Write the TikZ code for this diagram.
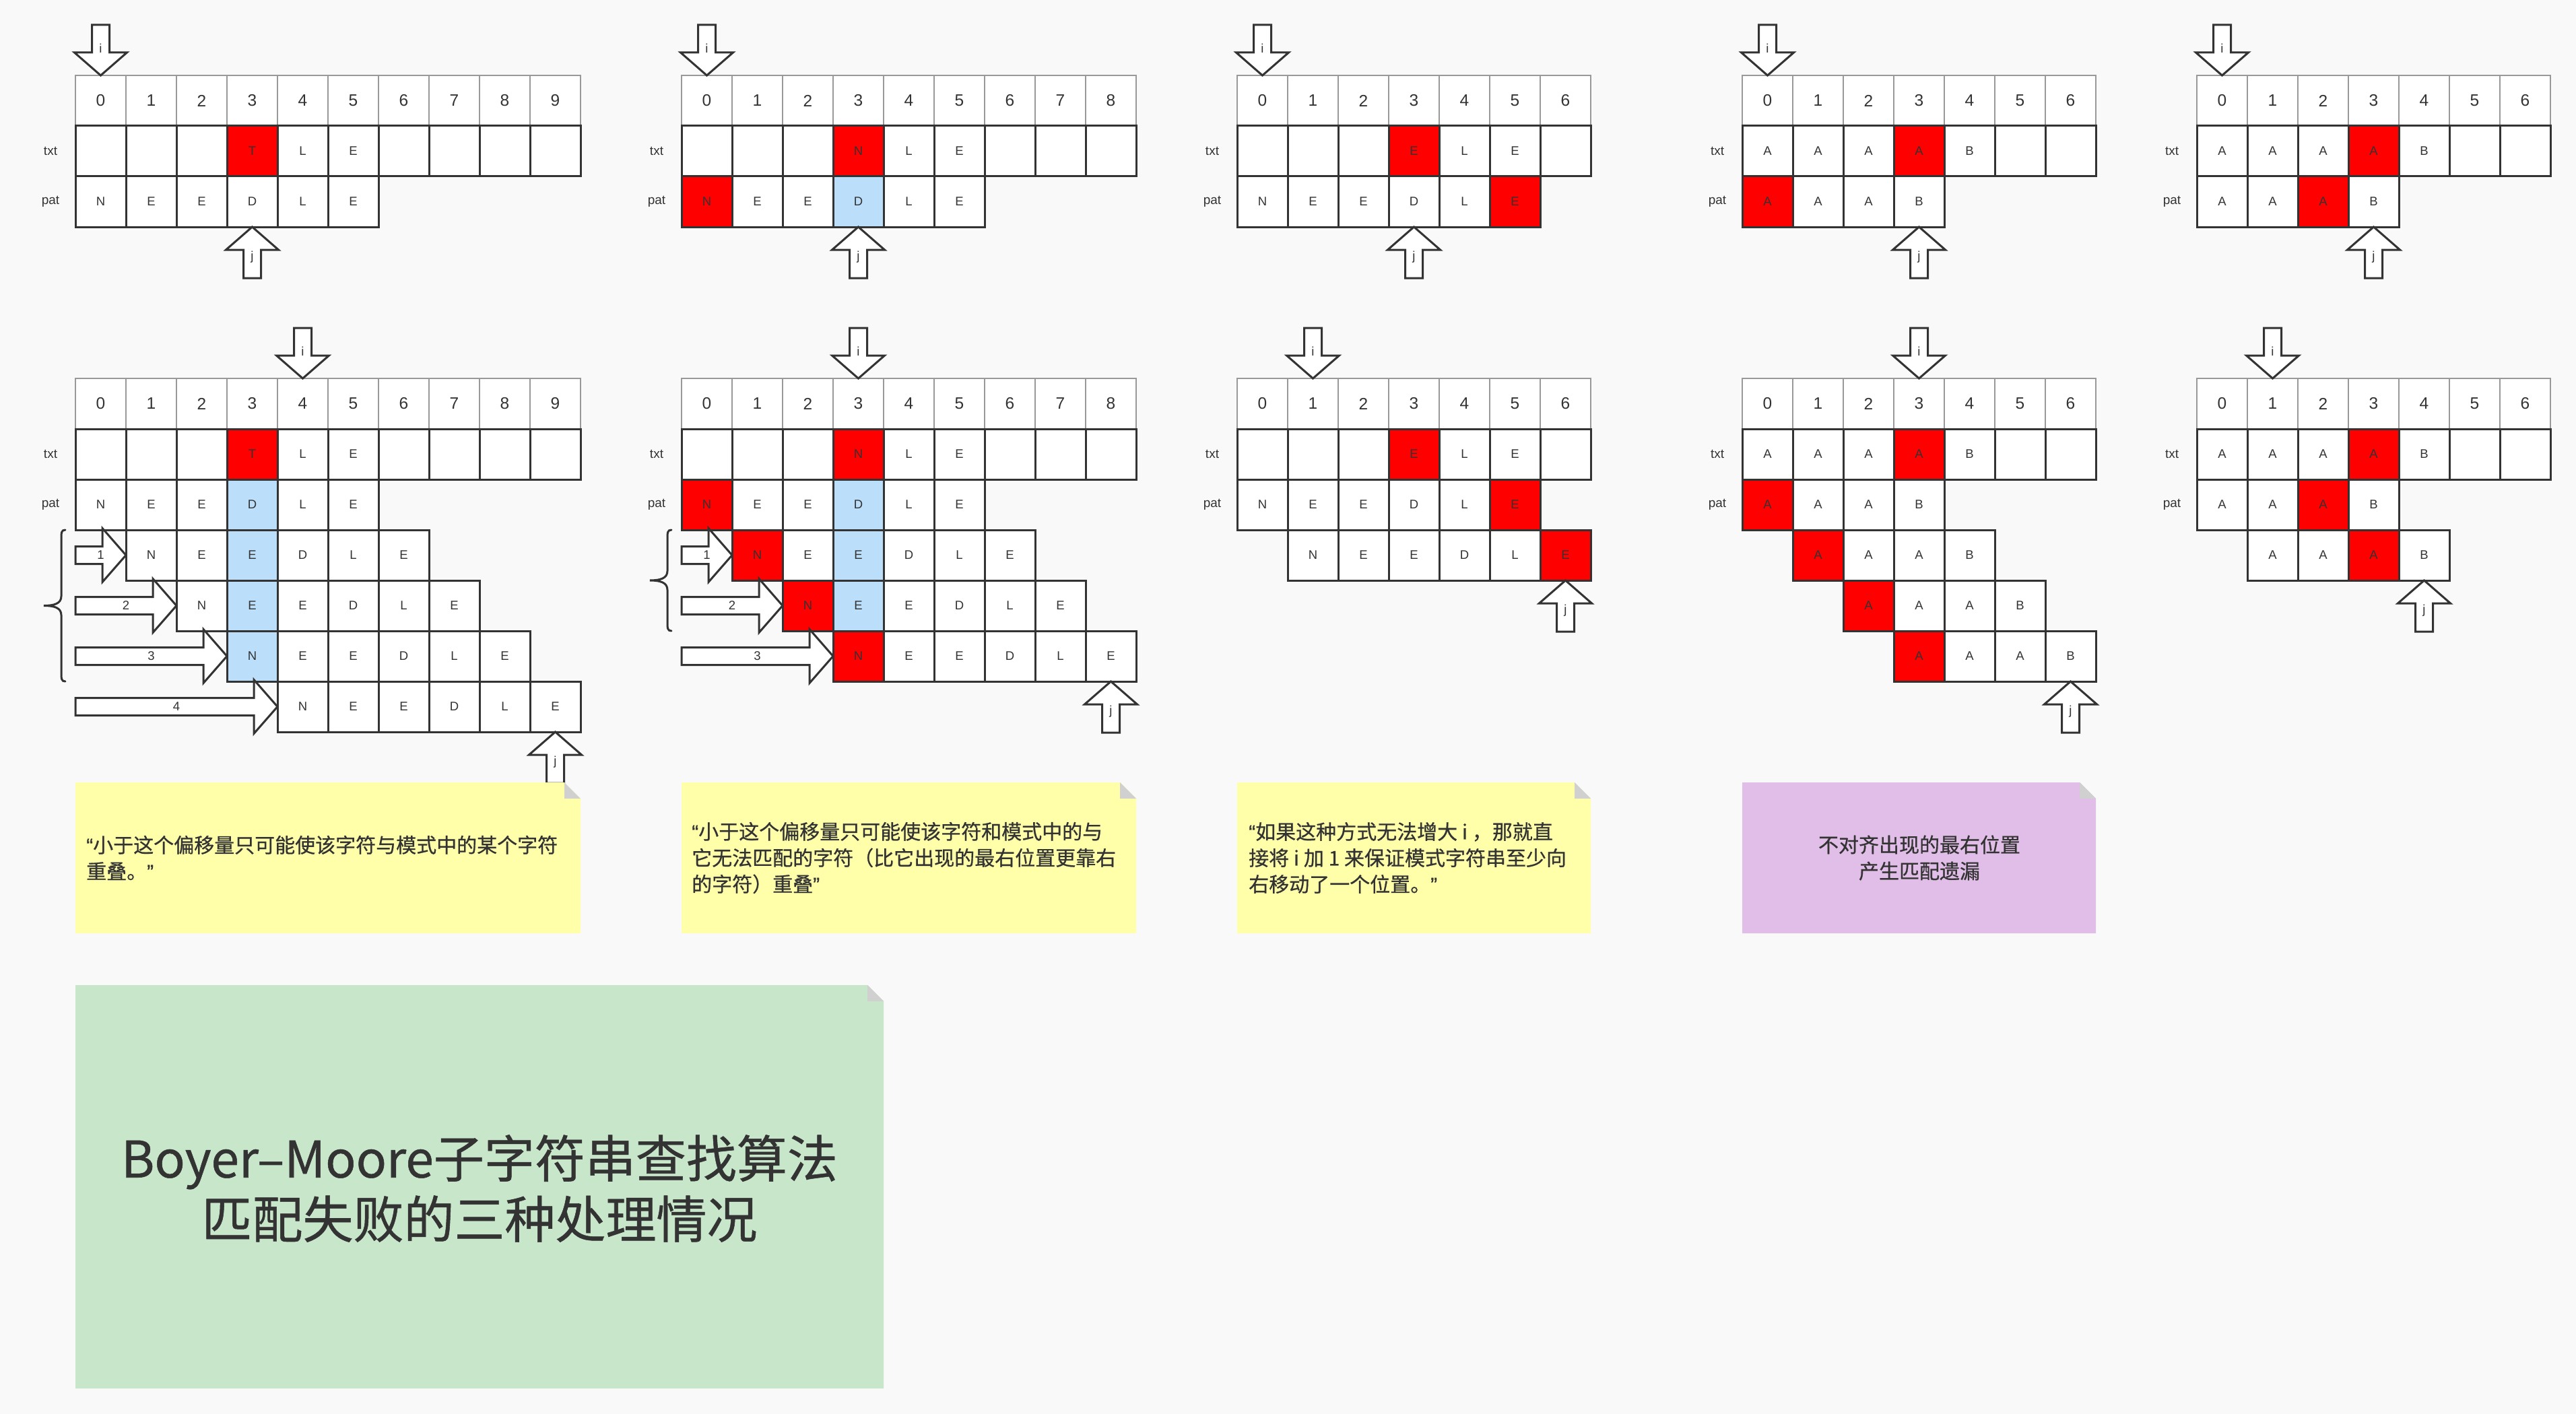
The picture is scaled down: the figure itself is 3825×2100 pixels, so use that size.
\documentclass[tikz,border=0pt]{standalone}
\usepackage{fontspec}
\setmainfont{Liberation Sans}
\newfontfamily\cjk{Noto Sans CJK SC}[FakeBold=0.7]
\newfontfamily\latinq{Liberation Sans}[FakeBold=0.7]
\definecolor{bg}{HTML}{F9F9F9}
\definecolor{ink}{HTML}{333333}
\definecolor{gridgray}{HTML}{999999}
\definecolor{cw}{HTML}{FFFFFF}
\definecolor{cr}{HTML}{FF0000}
\definecolor{cb}{HTML}{BBDEFB}
\definecolor{noteyellow}{HTML}{FFFFAA}
\definecolor{notepurple}{HTML}{E1BEE7}
\definecolor{notegreen}{HTML}{C8E6C9}
\definecolor{foldgray}{HTML}{D0D0D0}
\newcommand{\openq}{{\latinq “}}
\newcommand{\closeq}{{\latinq ”}}
\tikzset{
  cellbox/.style={draw=ink, line width=3pt, minimum width=75pt, minimum height=75pt, inner sep=0pt, text=ink, font=\fontsize{18.5}{20}\selectfont},
  idxbox/.style={draw=gridgray, line width=1.5pt, fill=white, minimum width=75pt, minimum height=75pt, inner sep=0pt, text=ink, font=\fontsize{24.5}{28}\selectfont},
  rowlabel/.style={text=ink, inner sep=0pt, font=\fontsize{19}{20}\selectfont},
  blockarrow/.style={draw=ink, line width=3pt, fill=white, line join=miter},
  arrowlabel/.style={text=ink, font=\fontsize{18.5}{20}\selectfont, inner sep=0pt},
  bracestyle/.style={draw=ink, line width=3pt, line cap=round},
  notetext/.style={text=ink, font=\cjk\fontsize{30}{39}\selectfont, inner sep=0pt},
  titletext/.style={text=ink, font=\cjk\fontsize{75}{90}\selectfont, inner sep=0pt},
}
% #1 name, #2 x0, #3 ytop, #4 last index
\newcommand{\idxrow}[4]{%
  \foreach \k in {0,...,#4} {\node[idxbox] (#1-\k) at ({#2+75*\k+37.5},{#3+37.5}) {\k};}}
% #1 name, #2 x0, #3 ytop, #4 start col, #5 list
\newcommand{\cellrow}[5]{%
  \foreach \ctext/\cfill [count=\k from #4] in {#5} {\node[cellbox, fill=\cfill] (#1-\k) at ({#2+75*\k+37.5},{#3+37.5}) {\ctext};}}
% #1 name, #2 x0, #3 ytop of txt row
\newcommand{\rowlabels}[3]{%
  \node[rowlabel] (#1-txt) at ({#2-37},{#3+37.5}) {txt};
  \node[rowlabel] (#1-pat) at ({#2-37},{#3+112.5}) {pat};}
% #1 name, #2 x0, #3 col, #4 ytip
\newcommand{\iarrow}[4]{%
  \pgfmathsetmacro{\cx}{#2+75*#3+37.5}%
  \draw[blockarrow] ({\cx-13},{#4-75}) -- ({\cx+13},{#4-75}) -- ({\cx+13},{#4-34}) -- ({\cx+39},{#4-34}) -- (\cx,#4) -- ({\cx-39},{#4-34}) -- ({\cx-13},{#4-34}) -- cycle;
  \node[arrowlabel] (#1) at (\cx,{#4-40}) {i};}
\newcommand{\jarrow}[4]{%
  \pgfmathsetmacro{\cx}{#2+75*#3+37.5}%
  \draw[blockarrow] ({\cx-13},{#4+76}) -- ({\cx+13},{#4+76}) -- ({\cx+13},{#4+34}) -- ({\cx+39},{#4+34}) -- (\cx,#4) -- ({\cx-39},{#4+34}) -- ({\cx-13},{#4+34}) -- cycle;
  \node[arrowlabel] (#1) at (\cx,{#4+45}) {j};}
% #1 name, #2 x0, #3 shift k, #4 ytop of row
\newcommand{\sarrow}[4]{%
  \pgfmathsetmacro{\tx}{#2+75*#3}\pgfmathsetmacro{\yc}{#4+37.5}\pgfmathsetmacro{\mx}{(#2+\tx)/2}%
  \draw[blockarrow] (#2,{\yc-13}) -- ({\tx-35},{\yc-13}) -- ({\tx-35},{\yc-40}) -- (\tx,\yc) -- ({\tx-35},{\yc+40}) -- ({\tx-35},{\yc+13}) -- (#2,{\yc+13}) -- cycle;
  \node[arrowlabel] (#1) at (\mx,\yc) {#3};}
% #1 x0, #2 ytop, #3 ybot
\newcommand{\bracel}[3]{%
  \pgfmathsetmacro{\ym}{(#2+#3)/2}%
  \draw[bracestyle] ({#1-15},#2) .. controls ({#1-21},#2) and ({#1-21},{#2+4}) .. ({#1-21},{#2+14}) -- ({#1-21},{\ym-14}) .. controls ({#1-21},{\ym-3}) and ({#1-32},\ym) .. ({#1-47},\ym) .. controls ({#1-32},\ym) and ({#1-21},{\ym+3}) .. ({#1-21},{\ym+14}) -- ({#1-21},{#3-14}) .. controls ({#1-21},{#3-4}) and ({#1-21},#3) .. ({#1-15},#3);}
% #1 x0, #2 y0, #3 x1, #4 y1, #5 colour
\newcommand{\stickynote}[5]{%
  \fill[#5] (#1,#2) -- ({#3-24},#2) -- (#3,{#2+24}) -- (#3,#4) -- (#1,#4) -- cycle;
  \fill[foldgray] ({#3-24},#2) -- ({#3-24},{#2+24}) -- (#3,{#2+24}) -- cycle;}

\begin{document}
\begin{tikzpicture}[x=1pt,y=-1pt]
\useasboundingbox (0,0) rectangle (3825,2100);
\fill[bg] (0,0) rectangle (3825,2100);

% ================= Top row =================
% Panel A
\idxrow{A}{112}{112}{9}
\cellrow{At}{112}{187}{0}{{}/cw,{}/cw,{}/cw,T/cr,L/cw,E/cw,{}/cw,{}/cw,{}/cw,{}/cw}
\cellrow{Ap}{112}{262}{0}{N/cw,E/cw,E/cw,D/cw,L/cw,E/cw}
\rowlabels{A}{112}{187}
\iarrow{Ai}{112}{0}{112}
\jarrow{Aj}{112}{3}{337}

% Panel B
\idxrow{B}{1012}{112}{8}
\cellrow{Bt}{1012}{187}{0}{{}/cw,{}/cw,{}/cw,N/cr,L/cw,E/cw,{}/cw,{}/cw,{}/cw}
\cellrow{Bp}{1012}{262}{0}{N/cr,E/cw,E/cw,D/cb,L/cw,E/cw}
\rowlabels{B}{1012}{187}
\iarrow{Bi}{1012}{0}{112}
\jarrow{Bj}{1012}{3}{337}

% Panel C
\idxrow{C}{1837}{112}{6}
\cellrow{Ct}{1837}{187}{0}{{}/cw,{}/cw,{}/cw,E/cr,L/cw,E/cw,{}/cw}
\cellrow{Cp}{1837}{262}{0}{N/cw,E/cw,E/cw,D/cw,L/cw,E/cr}
\rowlabels{C}{1837}{187}
\iarrow{Ci}{1837}{0}{112}
\jarrow{Cj}{1837}{3}{337}

% Panel D
\idxrow{D}{2587}{112}{6}
\cellrow{Dt}{2587}{187}{0}{A/cw,A/cw,A/cw,A/cr,B/cw,{}/cw,{}/cw}
\cellrow{Dp}{2587}{262}{0}{A/cr,A/cw,A/cw,B/cw}
\rowlabels{D}{2587}{187}
\iarrow{Di}{2587}{0}{112}
\jarrow{Dj}{2587}{3}{337}

% Panel E
\idxrow{E}{3262}{112}{6}
\cellrow{Et}{3262}{187}{0}{A/cw,A/cw,A/cw,A/cr,B/cw,{}/cw,{}/cw}
\cellrow{Ep}{3262}{262}{0}{A/cw,A/cw,A/cr,B/cw}
\rowlabels{E}{3262}{187}
\iarrow{Ei}{3262}{0}{112}
\jarrow{Ej}{3262}{3}{337}

% ================= Second row =================
% Panel A2
\idxrow{A2}{112}{562}{9}
\cellrow{A2t}{112}{637}{0}{{}/cw,{}/cw,{}/cw,T/cr,L/cw,E/cw,{}/cw,{}/cw,{}/cw,{}/cw}
\cellrow{A2p}{112}{712}{0}{N/cw,E/cw,E/cw,D/cb,L/cw,E/cw}
\cellrow{A2a}{112}{787}{1}{N/cw,E/cw,E/cb,D/cw,L/cw,E/cw}
\cellrow{A2b}{112}{862}{2}{N/cw,E/cb,E/cw,D/cw,L/cw,E/cw}
\cellrow{A2c}{112}{937}{3}{N/cb,E/cw,E/cw,D/cw,L/cw,E/cw}
\cellrow{A2d}{112}{1012}{4}{N/cw,E/cw,E/cw,D/cw,L/cw,E/cw}
\rowlabels{A2}{112}{637}
\sarrow{A2s1}{112}{1}{787}
\sarrow{A2s2}{112}{2}{862}
\sarrow{A2s3}{112}{3}{937}
\sarrow{A2s4}{112}{4}{1012}
\bracel{112}{787}{1012}
\iarrow{A2i}{112}{4}{562}
\jarrow{A2j}{112}{9}{1087}

% Panel B2
\idxrow{B2}{1012}{562}{8}
\cellrow{B2t}{1012}{637}{0}{{}/cw,{}/cw,{}/cw,N/cr,L/cw,E/cw,{}/cw,{}/cw,{}/cw}
\cellrow{B2p}{1012}{712}{0}{N/cr,E/cw,E/cw,D/cb,L/cw,E/cw}
\cellrow{B2a}{1012}{787}{1}{N/cr,E/cw,E/cb,D/cw,L/cw,E/cw}
\cellrow{B2b}{1012}{862}{2}{N/cr,E/cb,E/cw,D/cw,L/cw,E/cw}
\cellrow{B2c}{1012}{937}{3}{N/cr,E/cw,E/cw,D/cw,L/cw,E/cw}
\rowlabels{B2}{1012}{637}
\sarrow{B2s1}{1012}{1}{787}
\sarrow{B2s2}{1012}{2}{862}
\sarrow{B2s3}{1012}{3}{937}
\bracel{1012}{787}{937}
\iarrow{B2i}{1012}{3}{562}
\jarrow{B2j}{1012}{8}{1012}

% Panel C2
\idxrow{C2}{1837}{562}{6}
\cellrow{C2t}{1837}{637}{0}{{}/cw,{}/cw,{}/cw,E/cr,L/cw,E/cw,{}/cw}
\cellrow{C2p}{1837}{712}{0}{N/cw,E/cw,E/cw,D/cw,L/cw,E/cr}
\cellrow{C2a}{1837}{787}{1}{N/cw,E/cw,E/cw,D/cw,L/cw,E/cr}
\rowlabels{C2}{1837}{637}
\iarrow{C2i}{1837}{1}{562}
\jarrow{C2j}{1837}{6}{862}

% Panel D2
\idxrow{D2}{2587}{562}{6}
\cellrow{D2t}{2587}{637}{0}{A/cw,A/cw,A/cw,A/cr,B/cw,{}/cw,{}/cw}
\cellrow{D2p}{2587}{712}{0}{A/cr,A/cw,A/cw,B/cw}
\cellrow{D2a}{2587}{787}{1}{A/cr,A/cw,A/cw,B/cw}
\cellrow{D2b}{2587}{862}{2}{A/cr,A/cw,A/cw,B/cw}
\cellrow{D2c}{2587}{937}{3}{A/cr,A/cw,A/cw,B/cw}
\rowlabels{D2}{2587}{637}
\iarrow{D2i}{2587}{3}{562}
\jarrow{D2j}{2587}{6}{1012}

% Panel E2
\idxrow{E2}{3262}{562}{6}
\cellrow{E2t}{3262}{637}{0}{A/cw,A/cw,A/cw,A/cr,B/cw,{}/cw,{}/cw}
\cellrow{E2p}{3262}{712}{0}{A/cw,A/cw,A/cr,B/cw}
\cellrow{E2a}{3262}{787}{1}{A/cw,A/cw,A/cr,B/cw}
\rowlabels{E2}{3262}{637}
\iarrow{E2i}{3262}{1}{562}
\jarrow{E2j}{3262}{4}{862}

% ================= Notes =================
\stickynote{112}{1162}{862}{1386}{noteyellow}
\node[notetext, anchor=west, align=left] (note1) at (128,1274) {\openq 小于这个偏移量只可能使该字符与模式中的某个字符\\重叠。\closeq};

\stickynote{1012}{1162}{1687}{1386}{noteyellow}
\node[notetext, anchor=west, align=left] (note2) at (1027,1274) {\openq 小于这个偏移量只可能使该字符和模式中的与\\它无法匹配的字符（比它出现的最右位置更靠右\\的字符）重叠\closeq};

\stickynote{1837}{1162}{2362}{1386}{noteyellow}
\node[notetext, anchor=west, align=left] (note3) at (1854,1274) {\openq 如果这种方式无法增大 i ，那就直\\接将 i 加 1 来保证模式字符串至少向\\右移动了一个位置。\closeq};

\stickynote{2587}{1162}{3112}{1386}{notepurple}
\node[notetext, align=center] (note4) at (2850,1274) {不对齐出现的最右位置\\产生匹配遗漏};

\stickynote{112}{1463}{1312}{2062}{notegreen}
\node[titletext, align=center] (title) at (712,1765) {Boyer–Moore子字符串查找算法\\匹配失败的三种处理情况};

\end{tikzpicture}
\end{document}
